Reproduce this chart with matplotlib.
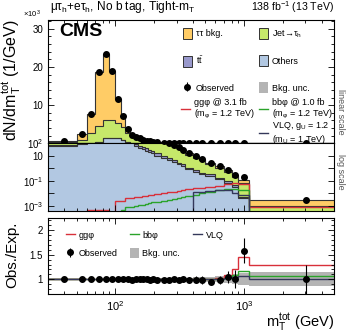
import numpy as np
import matplotlib
matplotlib.use("Agg")
import matplotlib.pyplot as plt
from matplotlib.patches import Patch
from matplotlib.lines import Line2D
from matplotlib.ticker import FixedLocator, MultipleLocator, FuncFormatter, NullFormatter, LogLocator

plt.rcParams['font.family'] = ['Liberation Sans', 'DejaVu Sans']
plt.rcParams['mathtext.fontset'] = 'custom'
plt.rcParams['mathtext.rm'] = 'Liberation Sans'
plt.rcParams['mathtext.it'] = 'Liberation Sans:italic'
plt.rcParams['mathtext.default'] = 'regular'

# bin edges of m_T^tot (GeV)
edges = [30, 50, 60, 70, 80, 90, 100, 110, 120, 130, 140, 150, 160, 170, 180, 190, 200,
         225, 250, 275, 300, 325, 350, 400, 450, 500, 600, 700, 800, 900, 1100, 5000]

# backgrounds, events / GeV
others = [60, 80, 120, 400, 1400, 1500, 1300, 900, 450, 150, 55, 42, 32, 25, 19, 15, 10,
          6.5, 4.3, 3.0, 2.0, 1.5, 0.8, 0.5, 0.33, 0.25, 0.13, 0.07, 0.035, 0.004, 1e-4]
ttbar = [12, 15, 20, 25, 30, 35, 40, 40, 38, 35, 25, 20, 15, 12, 10, 8, 5,
         3, 2, 1.3, 0.8, 0.6, 0.3, 0.17, 0.12, 0.08, 0.05, 0.03, 0.015, 0.001, 5e-5]
jetfakes = [300, 900, 2700, 4000, 4600, 4500, 4100, 3300, 2300, 1550, 1150, 880, 650, 480, 355, 262, 172,
            110, 68, 47, 31, 20, 10.2, 6.3, 3.8, 1.8, 0.85, 0.38, 0.16, 0.06, 8e-4]
ztt = [130, 1400, 4760, 14280, 17270, 12970, 6260, 2960, 1010, 565, 470, 360, 250, 185, 135, 95, 63,
       40, 25, 17.5, 11, 8, 3.7, 2.5, 1.55, 0.67, 0.38, 0.19, 0.09, 0.055, 2.05e-3]
bkg_unc_rel = [0.02, 0.02, 0.015, 0.015, 0.015, 0.015, 0.015, 0.015, 0.02, 0.02, 0.02, 0.02, 0.02, 0.02, 0.02, 0.02, 0.02,
               0.025, 0.025, 0.03, 0.03, 0.03, 0.035, 0.04, 0.045, 0.05, 0.06, 0.08, 0.1, 0.12, 0.14]

# data
observed = [500, 2400, 7610, 18690, 23310, 19000, 11720, 7190, 3810, 2290, 1705, 1300, 955, 700, 515, 384, 247,
            157, 98, 69.5, 44, 30.3, 14.7, 9.4, 5.75, 2.65, 1.38, 0.70, 0.30, 0.19, 0.003]
obs_err_rel = [0.01, 0.01, 0.005, 0.003, 0.003, 0.003, 0.004, 0.005, 0.007, 0.009, 0.011, 0.012, 0.014, 0.017, 0.02, 0.023, 0.018,
               0.025, 0.032, 0.038, 0.048, 0.058, 0.058, 0.065, 0.083, 0.06, 0.085, 0.12, 0.18, 0.16, 0.29]

# signals
ggphi = [0, 0, 5e-4, 5e-4, 5e-4, 3e-4, 2.5e-3, 2.5e-3, 4e-3, 4e-3, 5e-3, 5.5e-3, 6e-3, 6.5e-3, 7e-3, 7.5e-3, 8.5e-3,
         0.01, 0.012, 0.014, 0.016, 0.018, 0.021, 0.025, 0.029, 0.034, 0.042, 0.052, 0.062, 0.055, 8.5e-4]
bbphi = [0, 0, 0, 0, 0, 0, 3e-4, 5e-4, 8.3e-4, 9e-4, 1.0e-3, 1.2e-3, 1.3e-3, 1.5e-3, 1.7e-3, 1.9e-3, 2.2e-3,
         2.6e-3, 3.0e-3, 3.4e-3, 4.2e-3, 5.0e-3, 6.3e-3, 8e-3, 0.011, 0.014, 0.018, 0.022, 0.024, 0.02, 1.8e-4]
vlq = [0, 0, 0, 0, 0, 0, 0, 0, 0, 0, 0, 0, 0, 0, 0, 0, 0,
       0, 0, 0, 0, 0, 0, 0.013, 0.014, 0.016, 0.018, 0.017, 0.011, 0.0075, 0]

c_ztt = "#ffcc66"
c_jet = "#c6e86a"
c_tt = "#9999cc"
c_oth = "#b2c8e2"
c_gg = "#d8303a"
c_bb = "#2aa32a"
c_vlq = "#34385a"
c_edge = "#333333"

edges = np.array(edges)
centers = 0.5 * (edges[1:] + edges[:-1])
comps = np.array([others, ttbar, jetfakes, ztt])
cum = np.cumsum(comps, axis=0)
bkg = cum[-1]
obs = np.array(observed)
obs_err = obs * np.array(obs_err_rel)

fig = plt.figure(figsize=(3.49, 3.35), dpi=100)
L, W = 48 / 349, 286 / 349
ax_lin = fig.add_axes([L, 1 - 143 / 335, W, 123 / 335])
ax_log = fig.add_axes([L, 1 - 210.7 / 335, W, 67.7 / 335])
ax_r = fig.add_axes([L, 1 - 294 / 335, W, 76 / 335])

for ax, low in [(ax_lin, 0.0), (ax_log, 1e-9)]:
    bottoms = [np.full(len(bkg), low), cum[0], cum[1], cum[2]]
    for i, col in enumerate([c_oth, c_tt, c_jet, c_ztt]):
        ax.stairs(cum[i], edges, baseline=bottoms[i], fill=True, color=col, lw=0)
    for i in range(4):
        ax.stairs(cum[i], edges, baseline=None, color=c_edge, lw=0.8)
    dat = ax.errorbar(centers, obs, yerr=obs_err, fmt='o', color='k', ms=4,
                      elinewidth=0.8, capsize=0, label='Observed')

for sig, col in [(ggphi, c_gg), (bbphi, c_bb), (vlq, c_vlq)]:
    ax_log.stairs(np.clip(sig, 1e-9, None), edges, baseline=None, color=col, lw=1.0)

ax_lin.set_ylim(100, 32300)
ax_log.set_yscale('log')
ax_log.set_ylim(4.2e-4, 100)
for ax in (ax_lin, ax_log, ax_r):
    ax.set_xscale('log')
    ax.set_xlim(30, 5000)
    ax.tick_params(which='both', direction='in', top=True, right=True, labelsize=7)
    ax.tick_params(which='major', length=4, width=0.6)
    ax.tick_params(which='minor', length=2, width=0.6)
    for s in ax.spines.values():
        s.set_linewidth(0.8)

ax_lin.tick_params(which='both', bottom=False, labelbottom=False)
ax_log.tick_params(which='both', top=False, labelbottom=False)
ax_lin.yaxis.set_major_locator(FixedLocator([10000, 20000, 30000]))
ax_lin.yaxis.set_minor_locator(MultipleLocator(2000))
ax_lin.yaxis.set_major_formatter(FuncFormatter(lambda v, p: '%d' % (v / 1000)))

log_labels = {100: '$10^{2}$', 10: '10', 0.1: '$10^{-1}$', 0.001: '$10^{-3}$'}
ax_log.yaxis.set_major_locator(FixedLocator([100, 10, 1, 0.1, 0.01, 0.001]))
ax_log.yaxis.set_minor_locator(FixedLocator([]))
ax_log.yaxis.set_major_formatter(FuncFormatter(lambda v, p: log_labels.get(round(v, 6), '')))

# ratio panel
unc = np.array(bkg_unc_rel)
ax_r.stairs(1 + unc, edges, baseline=1 - unc, fill=True, color='#b4b4b4', lw=0)
ax_r.stairs((bkg + np.array(ggphi)) / bkg, edges, baseline=None, color=c_gg, lw=1.0)
ax_r.stairs((bkg + np.array(bbphi)) / bkg, edges, baseline=None, color=c_bb, lw=1.0)
ax_r.stairs((bkg + np.array(vlq)) / bkg, edges, baseline=None, color=c_vlq, lw=1.0)
ax_r.errorbar(centers, obs / bkg, yerr=obs_err / bkg, fmt='o', color='k', ms=4,
              elinewidth=0.8, capsize=0)
ax_r.set_ylim(0.7, 2.25)
ax_r.yaxis.set_major_locator(FixedLocator([1, 1.5, 2]))
ax_r.yaxis.set_minor_locator(MultipleLocator(0.1))
ax_r.yaxis.set_major_formatter(FuncFormatter(lambda v, p: '%g' % v))
ax_r.xaxis.set_major_locator(LogLocator(base=10))
ax_r.xaxis.set_minor_locator(LogLocator(base=10, subs=np.arange(2, 10)))
ax_r.xaxis.set_minor_formatter(NullFormatter())
ax_r.tick_params(axis='x', which='major', labelsize=8, pad=4)
ax_r.tick_params(axis='y', labelsize=7)

# legends
fs = 6.5
ln = lambda c: Line2D([], [], color=c, lw=1.0)
box = lambda c: Patch(facecolor=c, edgecolor=c_edge, lw=0.7)
unc_box = Patch(facecolor='#b4b4b4', edgecolor='none')
common = dict(frameon=False, fontsize=fs, borderpad=0, handlelength=1.0, handleheight=1.5,
              handletextpad=0.5, bbox_transform=fig.transFigure, loc='upper left')
fig.legend([box(c_ztt), box(c_tt), dat], ['ττ bkg.', r't$\bar{t}$', 'Observed'],
           bbox_to_anchor=(178 / 349, 1 - 23 / 335), labelspacing=1.75, **common)
fig.legend([box(c_jet), box(c_oth), unc_box], [r'Jet→τ$_h$', 'Others', 'Bkg. unc.'],
           bbox_to_anchor=(254 / 349, 1 - 23 / 335), labelspacing=1.75, **common)
common2 = dict(common, handleheight=1.0)
fig.legend([ln(c_gg)], ['ggφ @ 3.1 fb\n(m$_φ$ = 1.2 TeV)'],
           bbox_to_anchor=(176 / 349, 1 - 93 / 335), **common2)
fig.legend([ln(c_bb)], ['bbφ @ 1.0 fb\n(m$_φ$ = 1.2 TeV)'],
           bbox_to_anchor=(254 / 349, 1 - 93 / 335), **common2)
fig.legend([ln(c_vlq)], ['VLQ, g$_U$ = 1.2\n(m$_U$ = 1 TeV)'],
           bbox_to_anchor=(254 / 349, 1 - 115 / 335), **common2)

fig.legend([ln(c_gg), dat, ln(c_bb), unc_box, ln(c_vlq)],
           ['ggφ', 'Observed', 'bbφ', 'Bkg. unc.', 'VLQ'], ncol=3,
           frameon=False, fontsize=fs, borderpad=0, handlelength=1.0, handleheight=1.2,
           handletextpad=0.4, columnspacing=1.4, labelspacing=0.9,
           bbox_transform=fig.transFigure, loc='upper left',
           bbox_to_anchor=(61 / 349, 1 - 226 / 335))

# texts
fig.text(50 / 349, 1 - 7 / 335, 'μτ$_h$+eτ$_h$, No b tag, Tight-m$_T$', fontsize=8.6, va='center', ha='left')
fig.text(334 / 349, 1 - 7 / 335, '138 fb$^{-1}$ (13 TeV)', fontsize=7.6, va='center', ha='right')
fig.text(23 / 349, 1 - 14 / 335, r'×10$^{3}$', fontsize=5.5, va='center', ha='left')
fig.text(59 / 349, 1 - 32 / 335, 'CMS', fontsize=14, fontweight='bold', va='center', ha='left')
fig.text(12 / 349, 1 - 80 / 335, 'dN/dm$_T^{tot}$ (1/GeV)', fontsize=11.5, rotation=90, va='center', ha='center')
fig.text(12 / 349, 1 - 255 / 335, 'Obs./Exp.', fontsize=11, rotation=90, va='center', ha='center')
fig.text(334 / 349, 1 - 322 / 335, 'm$_T^{tot}$ (GeV)', fontsize=10.5, va='center', ha='right')
fig.text(341 / 349, 1 - 112 / 335, 'linear scale', fontsize=6.5, rotation=-90, va='center', ha='center', color='#555555')
fig.text(341 / 349, 1 - 172 / 335, 'log scale', fontsize=6.5, rotation=-90, va='center', ha='center', color='#555555')

fig.savefig('out.png', dpi=100)
